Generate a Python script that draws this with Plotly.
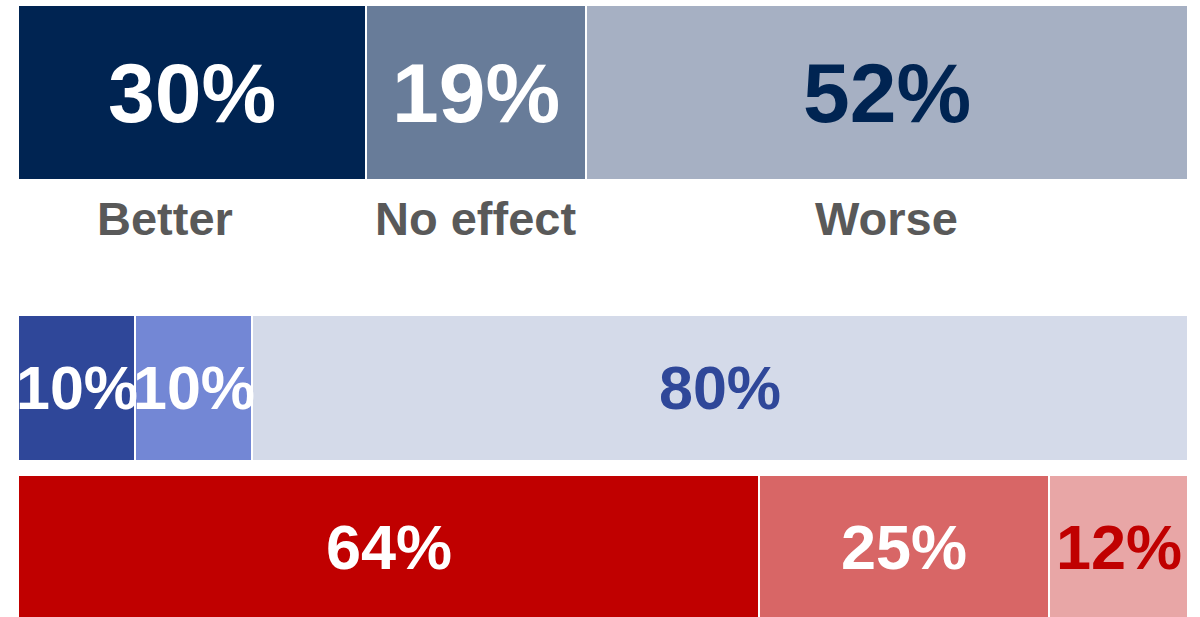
"""Three stacked 100% bars with big percentage labels."""
import plotly.graph_objects as go

# data: one list per segment position, rows are top / middle / bottom
first = [30, 10, 64]
second = [19, 10, 25]
third = [52, 80, 12]
top_labels = ["Better", "No effect", "Worse"]

first_colors = ["#002452", "#2f4799", "#c00000"]
second_colors = ["#687c99", "#7387d5", "#d86666"]
third_colors = ["#a6b0c3", "#d4dae9", "#e8a6a6"]
text_colors = [
    ["white", "white", "#002452"],
    ["white", "white", "#2f4799"],
    ["white", "white", "#c00000"],
]

# layout of the rows (pixel-like y units, plot is 617 tall)
row_y = [92.5, 388, 546.5]
row_h = [175, 146, 143]
font_sizes = [84, 61, 63]
FONT = "Arial, Liberation Sans, sans-serif"

rows = list(zip(first, second, third))
shares = [[v / sum(r) * 100 for v in r] for r in rows]

fig = go.Figure()
for k, colors in enumerate([first_colors, second_colors, third_colors]):
    fig.add_trace(go.Bar(
        x=[s[k] for s in shares],
        y=row_y,
        width=row_h,
        orientation="h",
        marker=dict(color=colors, line=dict(color="white", width=2)),
        hoverinfo="skip",
    ))

for i, (row, sh) in enumerate(zip(rows, shares)):
    left = 0
    for k, (v, s) in enumerate(zip(row, sh)):
        fig.add_annotation(
            x=left + s / 2, y=row_y[i], text=f"<b>{v}%</b>",
            showarrow=False,
            font=dict(family=FONT, size=font_sizes[i], color=text_colors[i][k]),
        )
        if i == 0:
            fig.add_annotation(
                x=left + s / 2, y=218, text=f"<b>{top_labels[k]}</b>",
                showarrow=False, xshift=-27 if k == 0 else 0,
                font=dict(family=FONT, size=47, color="#595959"),
            )
        left += s

fig.update_layout(
    barmode="stack",
    showlegend=False,
    width=1200,
    height=617,
    margin=dict(l=18, r=12, t=0, b=0),
    plot_bgcolor="white",
    paper_bgcolor="white",
    bargap=0,
)
fig.update_xaxes(range=[0, 100], visible=False, fixedrange=True)
fig.update_yaxes(range=[617, 0], visible=False, fixedrange=True)

fig.write_html(
    "out.html",
    config={"displayModeBar": False},
    post_script="document.body.style.margin='0';",
)
